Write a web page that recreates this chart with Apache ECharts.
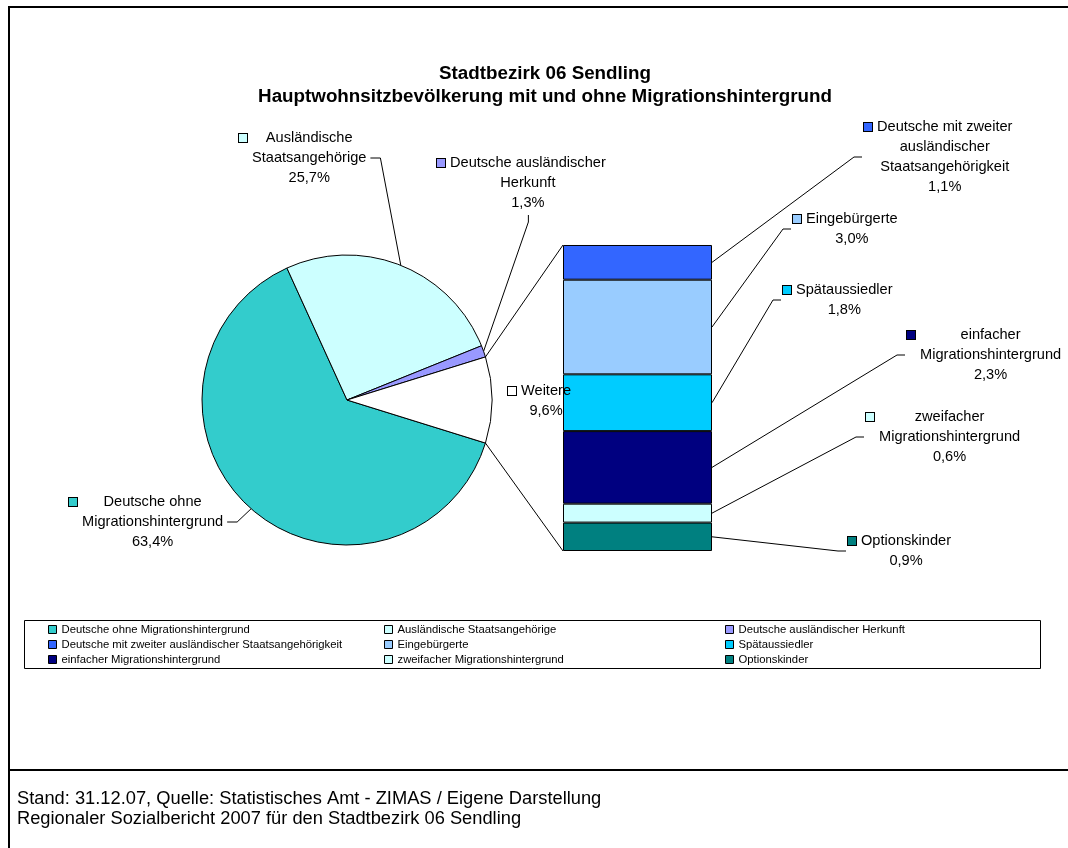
<!DOCTYPE html>
<html>
<head>
<meta charset="utf-8">
<title>Stadtbezirk 06 Sendling</title>
<script src="https://cdn.jsdelivr.net/npm/echarts@6/dist/echarts.min.js"></script>
<style>
  html, body { margin: 0; padding: 0; background: #fff; }
  #chart { width: 1068px; height: 848px; }
</style>
</head>
<body>
<div id="chart"></div>
<script>
// Kreis: Anteile an der Hauptwohnsitzbevölkerung (%)
var pieNames = ["Deutsche ohne Migrationshintergrund", "Ausländische Staatsangehörige",
  "Deutsche ausländischer Herkunft", "Weitere"];
var pieValues = [63.4, 25.7, 1.3, 9.6];
var pieLabels = ["Deutsche ohne\nMigrationshintergrund", "Ausländische\nStaatsangehörige",
  "Deutsche ausländischer\nHerkunft", "Weitere"];

// Säule: Aufteilung von "Weitere" (von oben nach unten)
var barNames = ["Deutsche mit zweiter ausländischer Staatsangehörigkeit", "Eingebürgerte",
  "Spätaussiedler", "einfacher Migrationshintergrund", "zweifacher Migrationshintergrund", "Optionskinder"];
var barValues = [1.1, 3.0, 1.8, 2.3, 0.6, 0.9];
var barLabels = ["Deutsche mit zweiter\nausländischer\nStaatsangehörigkeit", "Eingebürgerte",
  "Spätaussiedler", "einfacher\nMigrationshintergrund", "zweifacher\nMigrationshintergrund", "Optionskinder"];

var pieColors = ["#33CCCC", "#CCFFFF", "#9999FF", "#FFFFFF"];
var barColors = ["#3366FF", "#99CCFF", "#00CCFF", "#000080", "#CCFFFF", "#008080"];

// Layout
var FONT = 'Arial, "Liberation Sans", Helvetica, sans-serif';
var LABEL_SIZE = 14.6;
var LINE_H = 20;
var PIE_C = [347, 400];
var PIE_R = 145;
var GRID = { left: 563, top: 245, width: 149, height: 306 };
// [x Kästchen, y Mitte erste Zeile, Seite der Führungslinie]
var pieLabelPos = [[69, 502, "right"], [239, 138, "right"], [437, 163, "bottom"], [508, 391, null]];
var barLabelPos = [[864, 127], [793, 219], [783, 290], [907, 335], [866, 417], [848, 541]];
var legendCols = [
  [pieNames[0], barNames[0], barNames[3]],
  [pieNames[1], barNames[1], barNames[4]],
  [pieNames[2], barNames[2], barNames[5]]
];
var legendLeft = [48, 384, 725];

var pieTotal = pieValues.reduce(function (a, b) { return a + b; }, 0);
var barTotal = barValues.reduce(function (a, b) { return a + b; }, 0);
var restHalf = pieValues[3] / pieTotal * 180;

var chart = echarts.init(document.getElementById("chart"));
var barRects = [];

function pct(v) {
  return v.toFixed(1).replace(".", ",") + "%";
}

function labelText(key, text, value) {
  var lines = text.split("\n");
  lines.push(pct(value));
  return lines.map(function (l, i) {
    return (i === 0 ? "{" + key + "| }{gp| }" : "{sp| }") + "{t|" + l + "}";
  }).join("\n");
}

function labelRich(colors) {
  var r = {
    gp: { width: 5, align: "left", lineHeight: LINE_H },
    sp: { width: 13, align: "left", lineHeight: LINE_H },
    t: { align: "center", fontSize: LABEL_SIZE, fontFamily: FONT, lineHeight: LINE_H, color: "#000" }
  };
  colors.forEach(function (c, i) {
    r["sq" + i] = { width: 8, height: 8, backgroundColor: c, borderColor: "#000", borderWidth: 1,
      align: "left", verticalAlign: "middle", lineHeight: LINE_H };
  });
  return r;
}

var series = [{
  type: "pie",
  center: PIE_C,
  radius: PIE_R,
  startAngle: -restHalf,
  clockwise: true,
  avoidLabelOverlap: false,
  itemStyle: { borderColor: "#000", borderWidth: 1 },
  label: {
    show: true,
    position: "outside",
    fontSize: LABEL_SIZE,
    fontFamily: FONT,
    lineHeight: LINE_H,
    color: "#000",
    rich: labelRich(pieColors),
    formatter: function (p) {
      return labelText("sq" + p.dataIndex, pieLabels[p.dataIndex], p.value);
    }
  },
  labelLine: { show: true, length: 5, length2: 5, lineStyle: { color: "#000", width: 1 } },
  labelLayout: function (p) {
    var pos = pieLabelPos[p.dataIndex];
    var x = pos[0], y = pos[1] - LINE_H / 2;
    var w = p.labelRect.width, h = p.labelRect.height;
    var out = { x: x, y: y, align: "left", verticalAlign: "top" };
    var start = p.labelLinePoints && p.labelLinePoints[0];
    if (start && pos[2]) {
      var end, elbow;
      if (pos[2] === "right") {
        end = [x + w + 3, y + h / 2];
        elbow = [end[0] + 10, end[1]];
      } else {
        end = [x + w / 2 + 6.5, y + h + 2];
        elbow = [end[0], end[1] + 7];
      }
      out.labelLinePoints = [start, elbow, end];
    }
    return out;
  },
  emphasis: { disabled: true },
  data: pieNames.map(function (n, i) {
    return { name: n, value: pieValues[i], itemStyle: { color: pieColors[i] },
      labelLine: { show: pieLabelPos[i][2] !== null } };
  })
}];

// unterstes Segment zuerst stapeln
barNames.map(function (n, i) { return i; }).reverse().forEach(function (i) {
  series.push({
    type: "bar",
    name: barNames[i],
    stack: "weitere",
    barWidth: "100%",
    data: [barValues[i]],
    itemStyle: { color: barColors[i], borderColor: "#000", borderWidth: 1 },
    emphasis: { disabled: true },
    label: {
      show: true,
      fontSize: LABEL_SIZE,
      fontFamily: FONT,
      lineHeight: LINE_H,
      color: "#000",
      rich: labelRich([barColors[i]]),
      formatter: function (p) {
        return labelText("sq0", barLabels[i], p.value);
      }
    },
    labelLayout: function (p) {
      barRects[i] = p.rect;
      var pos = barLabelPos[i];
      return { x: pos[0], y: pos[1] - LINE_H / 2, align: "left", verticalAlign: "top" };
    }
  });
});

var option = {
  animation: false,
  backgroundColor: "#fff",
  title: [{
    text: "Stadtbezirk 06 Sendling\nHauptwohnsitzbevölkerung mit und ohne Migrationshintergrund",
    left: 545,
    top: 62,
    textAlign: "center",
    padding: 0,
    textStyle: { fontSize: 18.8, fontWeight: "bold", lineHeight: 23, color: "#000", fontFamily: FONT }
  }, {
    text: "Stand: 31.12.07, Quelle: Statistisches Amt - ZIMAS / Eigene Darstellung\nRegionaler Sozialbericht 2007 für den Stadtbezirk 06 Sendling",
    left: 17,
    top: 789,
    padding: 0,
    textStyle: { fontSize: 18.3, fontWeight: "normal", lineHeight: 20, color: "#000", fontFamily: FONT }
  }],
  legend: legendCols.map(function (col, c) {
    return {
      data: col,
      orient: "vertical",
      left: legendLeft[c],
      top: 622,
      padding: 0,
      itemGap: 0,
      itemWidth: 8,
      itemHeight: 8,
      icon: "rect",
      selectedMode: false,
      itemStyle: { borderColor: "#000", borderWidth: 1 },
      textStyle: { fontSize: 11.3, lineHeight: 15, color: "#000", fontFamily: FONT }
    };
  }),
  grid: GRID,
  xAxis: { type: "category", data: ["Weitere"], show: false },
  yAxis: { type: "value", min: 0, max: barTotal, show: false },
  series: series
};

chart.setOption(option);

// Rahmen, Legendenkasten, Verbindungs- und Führungslinien
var a = restHalf * Math.PI / 180;
var pTop = [PIE_C[0] + PIE_R * Math.cos(a), PIE_C[1] - PIE_R * Math.sin(a)];
var pBot = [PIE_C[0] + PIE_R * Math.cos(a), PIE_C[1] + PIE_R * Math.sin(a)];
var topRect = barRects[0];
var botRect = barRects[barRects.length - 1];
var lineStyle = { stroke: "#000", lineWidth: 1, fill: null };

var elements = [
  { type: "line", shape: { x1: 8, y1: 7, x2: 1068, y2: 7 }, style: { stroke: "#000", lineWidth: 2 } },
  { type: "line", shape: { x1: 9, y1: 6, x2: 9, y2: 848 }, style: { stroke: "#000", lineWidth: 2 } },
  { type: "line", shape: { x1: 8, y1: 770, x2: 1068, y2: 770 }, style: { stroke: "#000", lineWidth: 2 } },
  { type: "rect", shape: { x: 24.5, y: 620.5, width: 1016, height: 48 }, style: { fill: null, stroke: "#000", lineWidth: 1 } },
  { type: "polyline", shape: { points: [pTop, [topRect.x, topRect.y]] }, style: lineStyle },
  { type: "polyline", shape: { points: [pBot, [botRect.x, botRect.y + botRect.height]] }, style: lineStyle }
];

barRects.forEach(function (r, i) {
  var pos = barLabelPos[i];
  var nLines = barLabels[i].split("\n").length + 1;
  var cy = pos[1] - LINE_H / 2 + nLines * LINE_H / 2;
  elements.push({
    type: "polyline",
    shape: { points: [[r.x + r.width, r.y + r.height / 2], [pos[0] - 10, cy], [pos[0] - 2, cy]] },
    style: lineStyle
  });
});

chart.setOption({ graphic: { elements: elements } });
</script>
</body>
</html>
